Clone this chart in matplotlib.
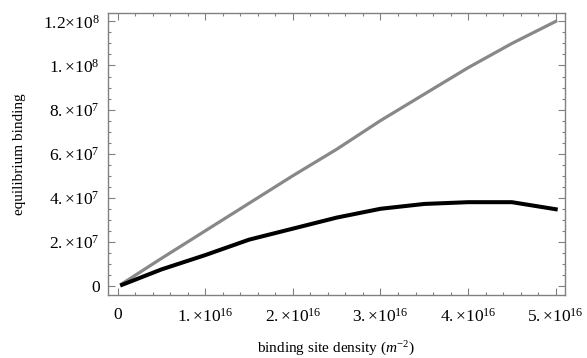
import numpy as np
import matplotlib
matplotlib.use('Agg')
import matplotlib.pyplot as plt
from matplotlib.ticker import FixedLocator, MultipleLocator, FixedFormatter

plt.rcParams['font.family'] = 'Liberation Serif'
plt.rcParams['mathtext.fontset'] = 'custom'
plt.rcParams['mathtext.rm'] = 'Liberation Serif'
plt.rcParams['mathtext.it'] = 'Liberation Serif:italic'

density = [0.05e16, 0.5e16, 1.0e16, 1.5e16, 2.0e16, 2.5e16, 3.0e16, 3.5e16, 4.0e16, 4.5e16, 5.0e16]
binding_gray = [0.1e7, 1.25e7, 2.5e7, 3.75e7, 5.0e7, 6.2e7, 7.5e7, 8.7e7, 9.9e7, 11.0e7, 12.0e7]
binding_black = [0.05e7, 0.75e7, 1.4e7, 2.1e7, 2.6e7, 3.1e7, 3.5e7, 3.72e7, 3.8e7, 3.8e7, 3.48e7]

xticks = [0, 1e16, 2e16, 3e16, 4e16, 5e16]
xlabels = ['0', r'$1.{\times}10^{16}$', r'$2.{\times}10^{16}$', r'$3.{\times}10^{16}$',
           r'$4.{\times}10^{16}$', r'$5.{\times}10^{16}$']
yticks = [0, 2e7, 4e7, 6e7, 8e7, 1e8, 1.2e8]
ylabels = ['0', r'$2.{\times}10^{7}$', r'$4.{\times}10^{7}$', r'$6.{\times}10^{7}$',
           r'$8.{\times}10^{7}$', r'$1.{\times}10^{8}$', r'$1.2{\times}10^{8}$']

fig = plt.figure(figsize=(5.87, 3.58), dpi=100)
ax = fig.add_axes([0.184, 0.176, 0.7785, 0.787])

ax.plot(density, binding_gray, color='#888888', lw=2.3, solid_joinstyle='miter')
ax.plot(density, binding_black, color='black', lw=2.9, solid_joinstyle='miter')

ax.set_xlim(-0.11e16, 5.106e16)
ax.set_ylim(-0.41e7, 12.37e7)

ax.xaxis.set_major_locator(FixedLocator(xticks))
ax.xaxis.set_major_formatter(FixedFormatter(xlabels))
ax.xaxis.set_minor_locator(MultipleLocator(0.2e16))
ax.yaxis.set_major_locator(FixedLocator(yticks))
ax.yaxis.set_major_formatter(FixedFormatter(ylabels))
ax.yaxis.set_minor_locator(MultipleLocator(0.5e7))

ax.tick_params(which='both', direction='in', top=True, right=True, color='#808080',
               labelsize=12.5, width=0.8)
ax.tick_params(axis='x', pad=9)
ax.tick_params(axis='y', pad=6)
ax.tick_params(which='major', length=5)
ax.tick_params(which='minor', length=2.5)
for s in ax.spines.values():
    s.set_color('#808080')
    s.set_linewidth(1.0)

ax.set_xlabel(r'binding site density ($m^{-2}$)', fontsize=11, labelpad=10)
ax.set_ylabel('equilibrium binding', fontsize=11, labelpad=12)

fig.savefig('out.png', dpi=100)
